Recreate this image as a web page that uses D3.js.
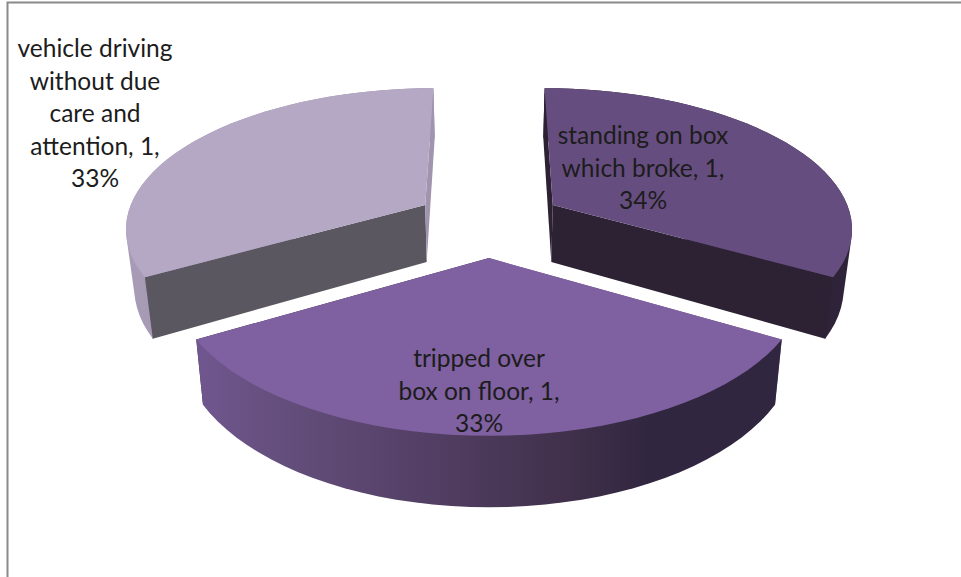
<!DOCTYPE html>
<html>
<head>
<meta charset="utf-8">
<script src="https://cdnjs.cloudflare.com/ajax/libs/d3/7.8.5/d3.min.js"></script>
<style>
html, body { margin: 0; padding: 0; background: #fff; }
svg { display: block; }
text { font-family: Lato, "Open Sans", sans-serif; font-size: 24.5px; fill: #1c1c1c; text-anchor: middle; }
</style>
</head>
<body>
<svg id="chart" width="961" height="577"></svg>
<script>
var categories = ["standing on box which broke", "tripped over box on floor", "vehicle driving without due care and attention"];
var values = [1, 1, 1];
var percents = ["34%", "33%", "33%"];
var labelLines = [
    ["standing on box", "which broke, 1,", "34%"],
    ["tripped over", "box on floor, 1,", "33%"],
    ["vehicle driving", "without due", "care and", "attention, 1,", "33%"]
];
var topColors = ["#664d7f", "#7f60a0", "#b4a8c5"];
var startCutColors = ["#2c2233", "#6b5289", "#5a5760"];
var endCutColors = ["#2c2233", "#33283f", "#a094ae"];
var labelPos = [[643, 137], [479, 360], [95, 50]];

var svg = d3.select("#chart");
var width = +svg.attr("width"), height = +svg.attr("height");

// marco gris, solo arriba e izquierda
svg.append("path")
    .attr("d", "M7.5," + height + "V2.5H" + width)
    .attr("fill", "none")
    .attr("stroke", "#8a8a8a")
    .attr("stroke-width", 2);

var defs = svg.append("defs");
var wallStops = [
    [["#2e2339", 0], ["#2e2339", 1]],
    [["#70568f", 0], ["#66507f", 0.12], ["#544066", 0.38], ["#40304a", 0.64], ["#30263f", 0.78], ["#30263f", 1]],
    [["#a79bb6", 0], ["#9a8fa8", 1]]
];
wallStops.forEach(function (stops, i) {
    var g = defs.append("linearGradient").attr("id", "wall" + i);
    stops.forEach(function (s) {
        g.append("stop").attr("offset", s[1]).attr("stop-color", s[0]);
    });
});

// proyeccion en perspectiva del disco
var cx = 489, cy = 222, rx = 300, ry = 139, k = 0.15, depth = 58, explode = 0.25, taper = 0.023;
var scaleX = d3.scaleLinear().domain([0, 1]).range([0, rx]);
var scaleY = d3.scaleLinear().domain([0, 1]).range([0, ry]);

function project(u, v, z) {
    var s = 1 / (1 - k * v);
    return [cx + scaleX(u) * s * (1 - taper * z), cy + scaleY(v) * s + z * depth * s];
}

function rim(d, angle, z) {
    var mid = (d.startAngle + d.endAngle) / 2;
    return project(Math.sin(angle) + explode * Math.sin(mid), -Math.cos(angle) - explode * Math.cos(mid), z);
}

function apex(d, z) {
    var mid = (d.startAngle + d.endAngle) / 2;
    return project(explode * Math.sin(mid), -explode * Math.cos(mid), z);
}

var line = d3.line();
var pie = d3.pie().sort(null);
var arcs = pie(values);

function sampleAngles(d) {
    return d3.range(0, 41).map(function (i) {
        return d.startAngle + (d.endAngle - d.startAngle) * i / 40;
    });
}

function drawCuts(g, d, i) {
    g.append("path")
        .attr("d", line([apex(d, 0), rim(d, d.startAngle, 0), rim(d, d.startAngle, 1), apex(d, 1)]) + "Z")
        .attr("fill", startCutColors[i]);
    g.append("path")
        .attr("d", line([apex(d, 0), rim(d, d.endAngle, 0), rim(d, d.endAngle, 1), apex(d, 1)]) + "Z")
        .attr("fill", endCutColors[i]);
}

// orden de pintado: primero las porciones de atras
[2, 0, 1].forEach(function (i) {
    var d = arcs[i], g = svg.append("g");
    var angles = sampleAngles(d);

    // la porcion de delante esconde sus cortes, las de atras los muestran
    if (i == 1) drawCuts(g, d, i);

    // pared exterior: la envolvente da la tangente entre los dos bordes
    var wall = d3.polygonHull(angles.map(function (a) { return rim(d, a, 0); })
        .concat(angles.map(function (a) { return rim(d, a, 1); })));
    g.append("path")
        .attr("d", line(wall) + "Z")
        .attr("fill", "url(#wall" + i + ")");

    if (i != 1) drawCuts(g, d, i);

    // cara superior
    var top = [apex(d, 0)].concat(angles.map(function (a) { return rim(d, a, 0); }));
    g.append("path")
        .attr("d", line(top) + "Z")
        .attr("fill", topColors[i]);
});

// etiquetas
labelLines.forEach(function (lines, i) {
    var t = svg.append("text").attr("x", labelPos[i][0]).attr("y", labelPos[i][1] + 7);
    lines.forEach(function (l, j) {
        t.append("tspan")
            .attr("x", labelPos[i][0])
            .attr("dy", j == 0 ? 0 : 32.5)
            .text(l);
    });
});
</script>
</body>
</html>
